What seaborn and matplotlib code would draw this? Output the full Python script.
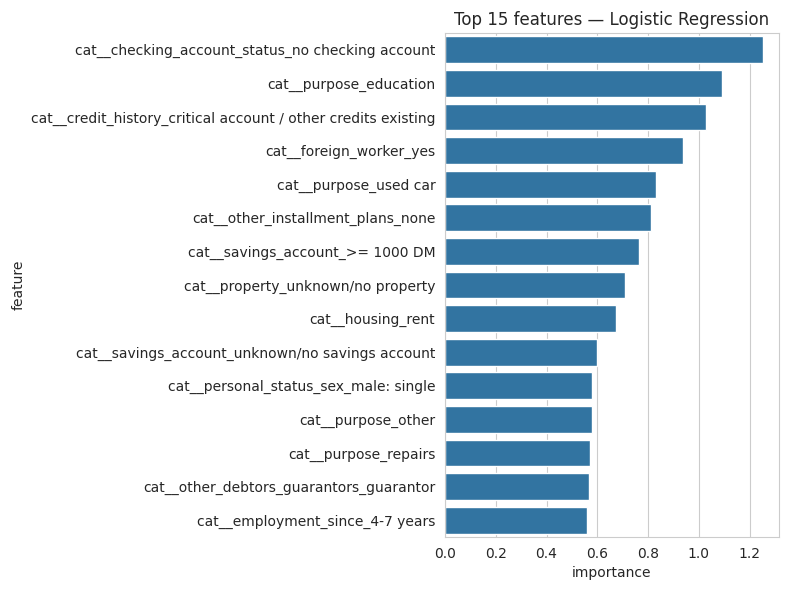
import matplotlib
matplotlib.use("Agg")
import matplotlib.pyplot as plt
import seaborn as sns
import pandas as pd

features = [
    "cat__checking_account_status_no checking account",
    "cat__purpose_education",
    "cat__credit_history_critical account / other credits existing",
    "cat__foreign_worker_yes",
    "cat__purpose_used car",
    "cat__other_installment_plans_none",
    "cat__savings_account_>= 1000 DM",
    "cat__property_unknown/no property",
    "cat__housing_rent",
    "cat__savings_account_unknown/no savings account",
    "cat__personal_status_sex_male: single",
    "cat__purpose_other",
    "cat__purpose_repairs",
    "cat__other_debtors_guarantors_guarantor",
    "cat__employment_since_4-7 years",
]
importance = [1.253, 1.093, 1.030, 0.936, 0.833, 0.810, 0.763, 0.711,
              0.672, 0.597, 0.581, 0.578, 0.570, 0.566, 0.558]

df = pd.DataFrame({"feature": features, "importance": importance})

sns.set_style("whitegrid")
fig, ax = plt.subplots(figsize=(7.9, 5.9), dpi=100)
sns.barplot(data=df, x="importance", y="feature", ax=ax)
ax.set_title("Top 15 features — Logistic Regression")

# margins matched to the reference layout
fig.subplots_adjust(left=0.5633, right=0.986, top=0.944, bottom=0.0898)
plt.savefig("out.png", dpi=100)
